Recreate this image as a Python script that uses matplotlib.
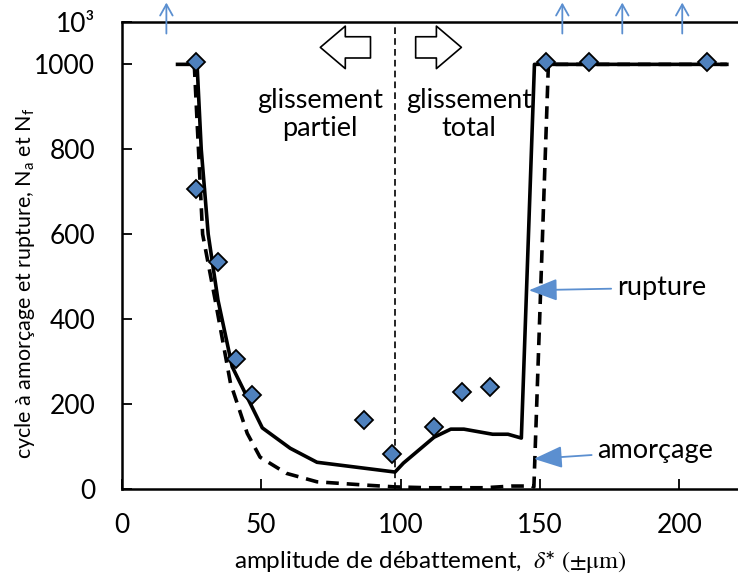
import numpy as np
import matplotlib
matplotlib.use("Agg")
from matplotlib import pyplot as plt

plt.rcParams["font.family"] = ["Lato", "DejaVu Sans"]
plt.rcParams["mathtext.fontset"] = "stix"

# measured points (diamonds)
pts_x = [26.8, 26.6, 34.5, 41.0, 46.8, 86.7, 97.0, 112.0, 122.0, 132.0, 152.0, 167.6, 210.0]
pts_y = [1005, 706, 534, 306, 221, 162, 82, 146, 228, 240, 1005, 1005, 1005]

# rupture (solid) curve
rup_x = [20, 27, 28.5, 31, 34.5, 39.6, 50.4, 60.4, 70, 98, 101, 112, 118, 122.7, 133, 138.5, 143.3, 148, 217]
rup_y = [1000, 1000, 800, 600, 445, 288, 144, 96, 63, 40, 61, 122, 141, 141, 129, 129, 120, 1000, 1000]

# amorcage (dashed) curve
amo_x = [26, 29, 33.5, 39, 45, 49.6, 59, 70, 88, 98, 110, 130, 140, 147, 147.8, 153, 217]
amo_y = [1000, 600, 445, 249, 131, 75, 37, 17, 9, 5, 3, 3, 7, 7, 5, 1000, 1000]

# run-outs (arrows at top)
runout_x = [16, 158, 179.5, 201]

yticks = [0, 200, 400, 600, 800, 1000, 1100]
yticklabels = ["0", "200", "400", "600", "800", "1000", "10³"]
xticks = [0, 50, 100, 150, 200]

fig = plt.figure(figsize=(7.38, 5.76), dpi=100)
ax = fig.add_axes([0.165, 0.151, 0.835, 0.811])

ax.plot(rup_x, rup_y, color="black", lw=2.6, solid_joinstyle="round")
ax.plot(amo_x, amo_y, color="black", lw=2.6, dashes=(3.5, 2.2))
ax.plot(pts_x, pts_y, ls="none", marker="D", ms=9.5, mfc="#4F81BD", mec="black", mew=1.3, zorder=5)

ax.axvline(98, color="black", lw=1.2, ls=(0, (4, 2.5)))

blue = "#5B8FD0"
for x in runout_x:
    ax.annotate("", xy=(x, 1152), xytext=(x, 1066),
                arrowprops=dict(arrowstyle="->,head_width=0.45,head_length=0.8", color=blue, lw=1.3),
                annotation_clip=False)

# hollow arrows for slip regimes
hollow = dict(arrowstyle="simple,head_width=1.7,head_length=1.0,tail_width=0.85",
              fc="white", ec="black", lw=1.2, mutation_scale=18, shrinkA=0, shrinkB=0)
ax.annotate("", xy=(71.2, 1040), xytext=(89.2, 1040), arrowprops=hollow)
ax.annotate("", xy=(121.8, 1040), xytext=(105.4, 1040), arrowprops=hollow)

ax.text(71.2, 882, "glissement\npartiel", ha="center", va="center", fontsize=19.5, linespacing=1.15)
ax.text(124.5, 882, "glissement\ntotal", ha="center", va="center", fontsize=19.5, linespacing=1.15)

ax.annotate("rupture", xy=(146, 468), xytext=(177.5, 474), fontsize=19.5, va="center",
            arrowprops=dict(arrowstyle="-|>,head_width=0.35,head_length=0.9", color=blue, lw=1.3,
                            shrinkA=2, shrinkB=0))
ax.annotate("amorçage", xy=(147.8, 71), xytext=(170.5, 90), fontsize=19.5, va="center",
            arrowprops=dict(arrowstyle="-|>,head_width=0.35,head_length=0.9", color=blue, lw=1.3,
                            shrinkA=2, shrinkB=0))

ax.set_xlim(0, 221)
ax.set_ylim(0, 1100)
ax.set_xticks(xticks)
ax.set_yticks(yticks)
ax.set_yticklabels(yticklabels)
ax.tick_params(direction="in", length=7, width=1.3, labelsize=19)
ax.tick_params(axis="y", pad=19)
ax.tick_params(axis="x", pad=17)
for s in ["left", "bottom", "top"]:
    ax.spines[s].set_linewidth(1.8)
ax.spines["right"].set_visible(False)

ax.set_xlabel(r"amplitude de débattement,  $\delta$* $(\pm\mathrm{\mu m})$", fontsize=17.5, labelpad=8)
ax.set_ylabel(r"cycle à amorçage et rupture, $\mathregular{N_a}$ et $\mathregular{N_f}$", fontsize=15.5)
ax.yaxis.set_label_coords(-0.138, 0.441)

fig.savefig("out.png", dpi=100)
